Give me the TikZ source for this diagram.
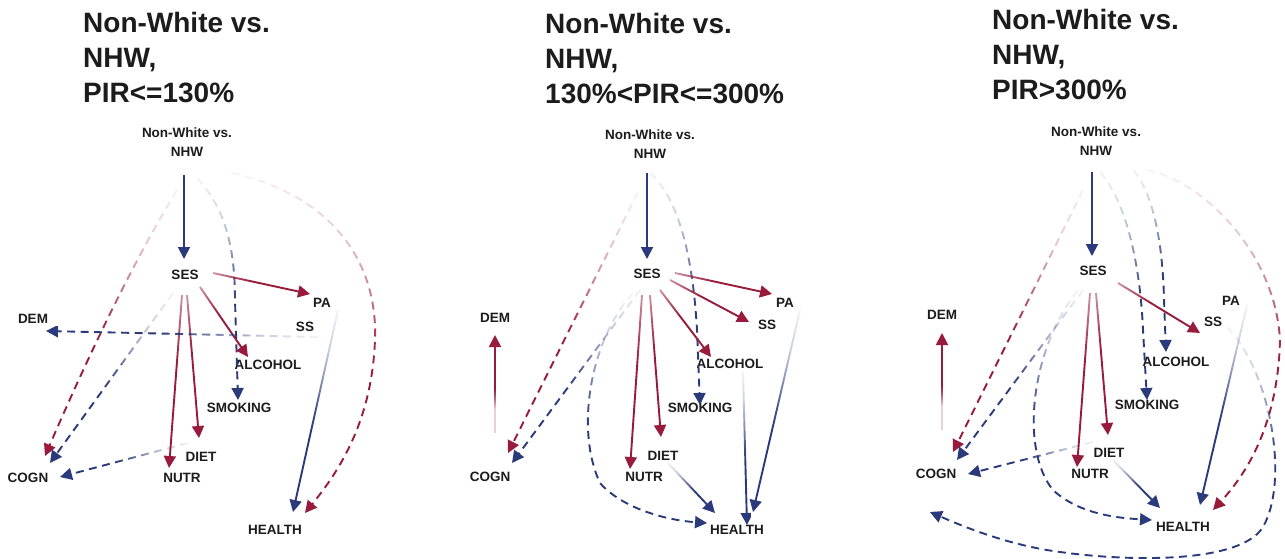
\documentclass[tikz,border=0pt]{standalone}
\usepackage{fontspec}
\setmainfont{Liberation Sans}
\usetikzlibrary{arrows.meta,fadings}
\definecolor{cr}{RGB}{152,26,60}
\definecolor{cb}{RGB}{42,58,122}
\definecolor{tx}{RGB}{28,28,28}
% the path bounding box spans 25bp..75bp of a 100bp shading
\pgfdeclareverticalshading{shDs}{100bp}{color(0bp)=(transparent!0); color(45bp)=(transparent!0); color(50bp)=(transparent!10); color(57.5bp)=(transparent!45); color(65bp)=(transparent!75); color(75bp)=(transparent!95); color(100bp)=(transparent!95)}
\pgfdeclareverticalshading{shDm}{100bp}{color(0bp)=(transparent!0); color(55bp)=(transparent!0); color(65bp)=(transparent!25); color(75bp)=(transparent!55); color(100bp)=(transparent!55)}
\pgfdeclareverticalshading{shUm}{100bp}{color(0bp)=(transparent!80); color(25bp)=(transparent!80); color(35bp)=(transparent!35); color(45bp)=(transparent!0); color(100bp)=(transparent!0)}
\pgfdeclarehorizontalshading{shRm}{100bp}{color(0bp)=(transparent!55); color(25bp)=(transparent!55); color(35bp)=(transparent!25); color(45bp)=(transparent!0); color(100bp)=(transparent!0)}
\pgfdeclarehorizontalshading{shLs}{100bp}{color(0bp)=(transparent!0); color(45bp)=(transparent!0); color(50bp)=(transparent!10); color(57.5bp)=(transparent!45); color(65bp)=(transparent!75); color(75bp)=(transparent!95); color(100bp)=(transparent!95)}
\tikzfading[name=fDs, shading=shDs]
\tikzfading[name=fDm, shading=shDm]
\tikzfading[name=fUm, shading=shUm]
\tikzfading[name=fRm, shading=shRm]
\tikzfading[name=fLs, shading=shLs]
\begin{document}
\begin{tikzpicture}[x=1pt,y=-1pt,
  ttl/.style={font=\fontsize{28}{35}\selectfont\bfseries, text=tx, align=left, anchor=north west, inner sep=0pt},
  lbl/.style={font=\fontsize{13.5}{19}\selectfont\bfseries, text=tx, align=center, inner sep=0pt},
  edge/.style={line width=1.9pt, -{Triangle[length=12pt,width=12pt]}},
  er/.style={edge, draw=cr},
  eb/.style={edge, draw=cb},
  dsh/.style={dash pattern=on 8pt off 5.5pt},
  fds/.style={path fading=fDs},
  fdm/.style={path fading=fDm},
  fum/.style={path fading=fUm, fit fading=false, fading transform={shift={#1}}},
  frm/.style={path fading=fRm},
  fls/.style={path fading=fLs}]
\useasboundingbox (0,0) rectangle (1285,558);
\fill[white] (0,0) rectangle (1285,558);

% ---------------- panel 1 ----------------
\node[ttl] (t1) at (83,12) {Non-White vs.\\NHW,\\PIR<=130\%};
\node[lbl] (a-nw) at (187,142) {Non-White vs.\\NHW};
\node[lbl] (a-ses) at (185,275) {SES};
\node[lbl] (a-pa) at (322,303) {PA};
\node[lbl] (a-dem) at (33,319) {DEM};
\node[lbl] (a-ss) at (305,327) {SS};
\node[lbl] (a-alc) at (268,365) {ALCOHOL};
\node[lbl] (a-smk) at (239,408) {SMOKING};
\node[lbl] (a-diet) at (201,457) {DIET};
\node[lbl] (a-cogn) at (28,478) {COGN};
\node[lbl] (a-nutr) at (182,478) {NUTR};
\node[lbl] (a-hl) at (275,530) {HEALTH};

\draw[eb] ([shift={(-3,33)}]a-nw.center) -- ([shift={(-1,-16)}]a-ses.center);
\draw[er,dsh,fds] ([shift={(45,31)}]a-nw.center) .. controls (330,195) and (378,260) .. (375,340) .. controls (372,420) and (340,470) .. ([shift={(30,-17)}]a-hl.center);
\draw[eb,dsh,fds] ([shift={(10,36)}]a-nw.center) .. controls (222,205) and (235,240) .. (235,300) -- ([shift={(-1,-8)}]a-smk.center);
\draw[er,dsh,fds] ([shift={(-10,48)}]a-nw.center) .. controls (140,250) and (95,340) .. ([shift={(17,-22)}]a-cogn.center);
\draw[er,frm] ([shift={(28,-2)}]a-ses.center) -- ([shift={(-12,-9)}]a-pa.center);
\draw[er,fdm] ([shift={(15,12)}]a-ses.center) -- ([shift={(-20,-8)}]a-alc.center);
\draw[er,fdm] ([shift={(-3,20)}]a-ses.center) -- ([shift={(-13,-10)}]a-nutr.center);
\draw[er,fdm] ([shift={(2,20)}]a-ses.center) -- ([shift={(-2,-19)}]a-diet.center);
\draw[eb,dsh,fds] ([shift={(-12,18)}]a-ses.center) -- ([shift={(22,-15)}]a-cogn.center);
\draw[eb,dsh,fls] ([shift={(13,10)}]a-ss.center) -- ([shift={(13,12)}]a-dem.center);
\draw[eb,fds] ([shift={(16,7)}]a-pa.center) -- ([shift={(18,-18)}]a-hl.center);
\draw[eb,dsh,fls] ([shift={(-13,-14)}]a-diet.center) -- ([shift={(32,-1)}]a-cogn.center);

% ---------------- panel 2 ----------------
\node[ttl] (t2) at (545,13) {Non-White vs.\\NHW,\\130\%<PIR<=300\%};
\node[lbl] (b-nw) at (650,144) {Non-White vs.\\NHW};
\node[lbl] (b-ses) at (647,274) {SES};
\node[lbl] (b-pa) at (785,303) {PA};
\node[lbl] (b-ss) at (767,325) {SS};
\node[lbl] (b-dem) at (495,318) {DEM};
\node[lbl] (b-alc) at (730,364) {ALCOHOL};
\node[lbl] (b-smk) at (700,408) {SMOKING};
\node[lbl] (b-diet) at (663,456) {DIET};
\node[lbl] (b-nutr) at (644,477) {NUTR};
\node[lbl] (b-cogn) at (490,477) {COGN};
\node[lbl] (b-hl) at (737,530) {HEALTH};

\draw[eb] ([shift={(-3,29)}]b-nw.center) -- ([shift={(0,-15)}]b-ses.center);
\draw[eb,dsh,fds] ([shift={(0,29)}]b-nw.center) .. controls (680,200) and (693,260) .. (697,330) -- ([shift={(0,-3)}]b-smk.center);
\draw[er,dsh,fds] ([shift={(-12,48)}]b-nw.center) -- ([shift={(18,-24)}]b-cogn.center);
\draw[er,frm] ([shift={(28,-1)}]b-ses.center) -- ([shift={(-13,-9)}]b-pa.center);
\draw[er,frm] ([shift={(23,6)}]b-ses.center) -- ([shift={(-18,-3)}]b-ss.center);
\draw[er,fdm] ([shift={(13,16)}]b-ses.center) -- ([shift={(-19,-7)}]b-alc.center);
\draw[er,fdm] ([shift={(-5,21)}]b-ses.center) -- ([shift={(-14,-8)}]b-nutr.center);
\draw[er,fdm] ([shift={(3,21)}]b-ses.center) -- ([shift={(-2,-19)}]b-diet.center);
\draw[eb,dsh,fds] ([shift={(-7,16)}]b-ses.center) -- ([shift={(22,-14)}]b-cogn.center);
\draw[eb,dsh,fds] ([shift={(-14,19)}]b-ses.center) .. controls (590,340) and (575,430) .. (600,483) .. controls (622,508) and (665,520) .. ([shift={(-30,-7)}]b-hl.center);
\draw[er,fum={(495,384)}] ([shift={(5,-44)}]b-cogn.center) -- ([shift={(0,17)}]b-dem.center);
\draw[eb,fds] ([shift={(15,7)}]b-pa.center) -- ([shift={(16,-18)}]b-hl.center);
\draw[eb,fds] ([shift={(13,8)}]b-alc.center) -- ([shift={(10,-5)}]b-hl.center);
\draw[eb,fds] ([shift={(5,7)}]b-diet.center) -- ([shift={(-22,-17)}]b-hl.center);

% ---------------- panel 3 ----------------
\node[ttl] (t3) at (992,9) {Non-White vs.\\NHW,\\PIR>300\%};
\node[lbl] (c-nw) at (1096,141) {Non-White vs.\\NHW};
\node[lbl] (c-ses) at (1093,271) {SES};
\node[lbl] (c-pa) at (1231,301) {PA};
\node[lbl] (c-ss) at (1213,322) {SS};
\node[lbl] (c-dem) at (942,315) {DEM};
\node[lbl] (c-alc) at (1176,362) {ALCOHOL};
\node[lbl] (c-smk) at (1147,405) {SMOKING};
\node[lbl] (c-diet) at (1109,453) {DIET};
\node[lbl] (c-nutr) at (1090,474) {NUTR};
\node[lbl] (c-cogn) at (936,474) {COGN};
\node[lbl] (c-hl) at (1183,527) {HEALTH};
\coordinate (c-x) at (930,512);

\draw[eb] ([shift={(-4,31)}]c-nw.center) -- ([shift={(-1,-15)}]c-ses.center);
\draw[eb,dsh,fds] ([shift={(4,31)}]c-nw.center) .. controls (1125,200) and (1140,260) .. (1143,330) -- ([shift={(0,-5)}]c-smk.center);
\draw[eb,dsh,fds] ([shift={(37,29)}]c-nw.center) .. controls (1155,195) and (1163,250) .. (1164,300) -- ([shift={(-10,-10)}]c-alc.center);
\draw[er,dsh,fds] ([shift={(51,29)}]c-nw.center) .. controls (1200,180) and (1275,250) .. (1280,340) .. controls (1278,420) and (1250,470) .. ([shift={(30,-17)}]c-hl.center);
\draw[er,dsh,fds] ([shift={(-13,49)}]c-nw.center) -- ([shift={(17,-22)}]c-cogn.center);
\draw[er,frm] ([shift={(25,12)}]c-ses.center) -- ([shift={(-13,11)}]c-ss.center);
\draw[er,fdm] ([shift={(-3,22)}]c-ses.center) -- ([shift={(-13,-7)}]c-nutr.center);
\draw[er,fdm] ([shift={(3,22)}]c-ses.center) -- ([shift={(-1,-18)}]c-diet.center);
\draw[eb,dsh,fds] ([shift={(-10,19)}]c-ses.center) -- ([shift={(21,-14)}]c-cogn.center);
\draw[eb,dsh,fds] ([shift={(-15,19)}]c-ses.center) .. controls (1030,350) and (1020,450) .. (1053,490) .. controls (1080,515) and (1120,518) .. ([shift={(-31,-7)}]c-hl.center);
\draw[er,fum={(942,381)}] ([shift={(6,-44)}]c-cogn.center) -- ([shift={(0,18)}]c-dem.center);
\draw[eb,dsh,fls] ([shift={(-16,-11)}]c-diet.center) -- ([shift={(32,0)}]c-cogn.center);
\draw[eb,fds] ([shift={(4,7)}]c-diet.center) -- ([shift={(-23,-19)}]c-hl.center);
\draw[eb,fds] ([shift={(16,4)}]c-pa.center) -- ([shift={(17,-22)}]c-hl.center);
\draw[eb,dsh,fds] ([shift={(14,5)}]c-ss.center) .. controls (1270,370) and (1290,480) .. (1263,527) .. controls (1240,565) and (1120,562) .. (1047,550) .. controls (1000,542) and (960,525) .. (c-x);
\end{tikzpicture}
\end{document}
